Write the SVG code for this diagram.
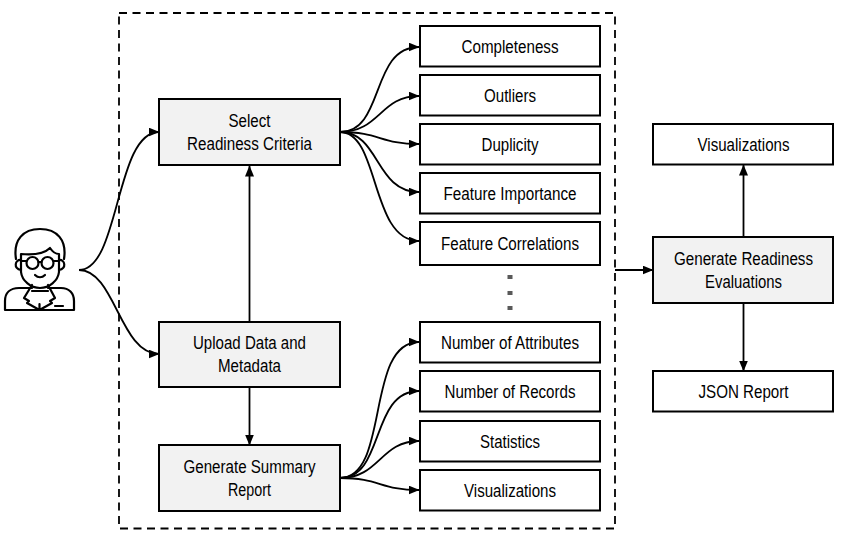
<svg xmlns="http://www.w3.org/2000/svg" width="843" height="539" viewBox="0 0 843 539">
<style>
text{font-family:"Liberation Sans",Arial,sans-serif;font-size:17.5px;fill:#000;text-anchor:middle}
.b{fill:#fff;stroke:#000;stroke-width:2}
.g{fill:#f2f2f2;stroke:#000;stroke-width:2}
.c{fill:none;stroke:#000;stroke-width:1.8}
.a{marker-end:url(#ah)}
.i{fill:none;stroke:#000;stroke-width:2.2;stroke-linecap:round;stroke-linejoin:round}
</style>
<defs><marker id="ah" markerUnits="userSpaceOnUse" markerWidth="11" markerHeight="9" refX="10.5" refY="4.5" orient="auto"><path d="M0 0L11 4.500L0 9Z" fill="#000"/></marker></defs>
<rect width="843" height="539" fill="#fff"/>
<rect x="119" y="13" width="496" height="515.500" fill="none" stroke="#000" stroke-width="1.800" stroke-dasharray="8 5.500"/>
<g id="connectors">
<path class="c a" d="M79 270C120 270 115 132 159 132"/>
<path class="c a" d="M79 270C115 270 120 354 159 354"/>
<path class="c a" d="M249.500 322V166"/>
<path class="c a" d="M249.500 387V445"/>
<path class="c a" d="M340 132C385 132 370 47 419 47"/>
<path class="c a" d="M340 132C380 132 380 96 419 96"/>
<path class="c a" d="M340 132C380 132 380 144 419 144"/>
<path class="c a" d="M340 132C380 132 375 192 419 192"/>
<path class="c a" d="M340 132C380 132 370 241 419 241"/>
<path class="c a" d="M340 478C390 478 365 342 419 342"/>
<path class="c a" d="M340 478C385 478 370 391 419 391"/>
<path class="c a" d="M340 478C380 478 380 441 419 441"/>
<path class="c a" d="M340 478C380 478 380 490 419 490"/>
<path class="c a" d="M615 270H653"/>
<path class="c a" d="M743.500 237V165"/>
<path class="c a" d="M743.500 303V371"/>
</g>
<g fill="#595959"><rect x="507.500" y="275" width="5" height="4"/><rect x="507.500" y="291" width="5" height="4"/><rect x="507.500" y="306" width="5" height="4"/></g>
<g id="user" class="i">
<path d="M16 259C13 240 23 229 40 229C57 229 67 240 64 259"/>
<path d="M21 260C15 259 13 269 21 270M59 260C65 259 67 269 59 270"/>
<path d="M21 254V272C22 281 31 288 40 288C49 288 58 281 59 272V254C55 254 52 251 50 248C44 254 32 255 21 254Z"/>
<circle cx="32.500" cy="263" r="6"/><circle cx="47.500" cy="263" r="6"/>
<path d="M38.500 262H41.500M21 261H26.500M53.500 261H59M35 275C38 278 42 278 45 275"/>
<path d="M32 288H19C10 288 5 293 5 301V310H74V301C74 293 69 288 61 288H48"/>
<path d="M32 285L24 298L29 301L27 303L39.500 310L52 303L50 301L55 298L48 285M32 291H48M39.500 304V310M55 306H63"/>
</g>
<g id="select"><rect class="g" x="159" y="99" width="181" height="66"/><text x="249.500" y="127" textLength="42" lengthAdjust="spacingAndGlyphs">Select</text><text x="249.500" y="150" textLength="125" lengthAdjust="spacingAndGlyphs">Readiness Criteria</text></g>
<g id="upload"><rect class="g" x="159" y="322" width="181" height="65"/><text x="249.500" y="349" textLength="113" lengthAdjust="spacingAndGlyphs">Upload Data and</text><text x="249.500" y="372" textLength="63" lengthAdjust="spacingAndGlyphs">Metadata</text></g>
<g id="summary"><rect class="g" x="159" y="445" width="181" height="66"/><text x="249.500" y="473" textLength="132" lengthAdjust="spacingAndGlyphs">Generate Summary</text><text x="249.500" y="496" textLength="43" lengthAdjust="spacingAndGlyphs">Report</text></g>
<g id="completeness"><rect class="b" x="420" y="26" width="180" height="40.500"/><text x="510" y="53" textLength="97" lengthAdjust="spacingAndGlyphs">Completeness</text></g>
<g id="outliers"><rect class="b" x="420" y="75" width="180" height="40.500"/><text x="510" y="102" textLength="52" lengthAdjust="spacingAndGlyphs">Outliers</text></g>
<g id="duplicity"><rect class="b" x="420" y="124" width="180" height="40.500"/><text x="510" y="151" textLength="57" lengthAdjust="spacingAndGlyphs">Duplicity</text></g>
<g id="importance"><rect class="b" x="420" y="173" width="180" height="40.500"/><text x="510" y="200" textLength="133" lengthAdjust="spacingAndGlyphs">Feature Importance</text></g>
<g id="correlations"><rect class="b" x="420" y="222" width="180" height="43"/><text x="510" y="250" textLength="138" lengthAdjust="spacingAndGlyphs">Feature Correlations</text></g>
<g id="attributes"><rect class="b" x="420" y="322" width="180" height="40.500"/><text x="510" y="349" textLength="138" lengthAdjust="spacingAndGlyphs">Number of Attributes</text></g>
<g id="records"><rect class="b" x="420" y="371" width="180" height="40.500"/><text x="510" y="398" textLength="131" lengthAdjust="spacingAndGlyphs">Number of Records</text></g>
<g id="statistics"><rect class="b" x="420" y="421" width="180" height="40.500"/><text x="510" y="448" textLength="60" lengthAdjust="spacingAndGlyphs">Statistics</text></g>
<g id="vis1"><rect class="b" x="420" y="470" width="180" height="40.500"/><text x="510" y="497" textLength="92" lengthAdjust="spacingAndGlyphs">Visualizations</text></g>
<g id="vis2"><rect class="b" x="653" y="124" width="180" height="40.500"/><text x="743.500" y="151" textLength="92" lengthAdjust="spacingAndGlyphs">Visualizations</text></g>
<g id="evaluate"><rect class="g" x="653" y="237" width="180" height="66"/><text x="743.500" y="265" textLength="139" lengthAdjust="spacingAndGlyphs">Generate Readiness</text><text x="743.500" y="288" textLength="77" lengthAdjust="spacingAndGlyphs">Evaluations</text></g>
<g id="json"><rect class="b" x="653" y="371" width="180" height="40.500"/><text x="743.500" y="398" textLength="90" lengthAdjust="spacingAndGlyphs">JSON Report</text></g>
</svg>
